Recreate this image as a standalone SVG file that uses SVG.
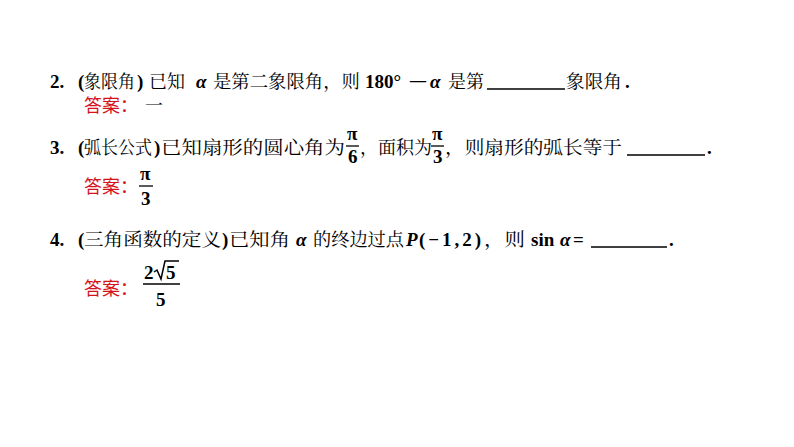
<svg xmlns="http://www.w3.org/2000/svg" width="794" height="447" viewBox="0 0 794 447">
<style>
.c{font-family:"Noto Serif CJK SC","Noto Sans CJK SC",serif;font-size:18px;fill:#000}
.l{font-family:"Liberation Serif",serif;font-size:19px;font-weight:bold;fill:#000}
.i{font-family:"Liberation Serif",serif;font-size:19px;font-weight:bold;font-style:italic;fill:#000}
.r{font-family:"Noto Sans CJK SC",sans-serif;font-size:18px;fill:#d4141c}
.u{stroke:#000;stroke-width:1.3}
</style>
<rect width="794" height="447" fill="#fff"/>
<g id="q2">
<text class="l" x="50" y="88">2.</text>
<text class="l" x="78" y="88">(</text>
<text class="c" x="84" y="88" textLength="51" lengthAdjust="spacingAndGlyphs">象限角</text>
<text class="l" x="137" y="88">)</text>
<text class="c" x="149" y="88" textLength="36" lengthAdjust="spacingAndGlyphs">已知</text>
<text class="i" x="196" y="88">α</text>
<text class="c" x="213" y="88" textLength="147" lengthAdjust="spacingAndGlyphs">是第二象限角，则</text>
<text class="l" x="365" y="88">180°</text>
<text class="l" x="408" y="88" textLength="20" lengthAdjust="spacingAndGlyphs">−</text>
<text class="i" x="430" y="88">α</text>
<text class="c" x="448" y="88" textLength="36" lengthAdjust="spacingAndGlyphs">是第</text>
<line class="u" x1="487" y1="89" x2="565" y2="89"/>
<text class="c" x="566" y="88" textLength="56" lengthAdjust="spacingAndGlyphs">象限角</text>
<text class="l" x="625" y="88">.</text>
</g>
<g id="a2"><text class="r" x="84" y="112">答案：</text><text class="c" x="145" y="112">一</text></g>
<g id="q3">
<text class="l" x="50" y="154">3.</text>
<text class="l" x="78" y="154">(</text>
<text class="c" x="84" y="154" textLength="68" lengthAdjust="spacingAndGlyphs">弧长公式</text>
<text class="l" x="154" y="154">)</text>
<text class="c" x="161" y="154" textLength="184" lengthAdjust="spacingAndGlyphs">已知扇形的圆心角为</text>
<text class="l" x="347" y="140">π</text>
<line class="u" x1="346" y1="146" x2="359" y2="146"/>
<text class="l" x="348" y="163">6</text>
<text class="c" x="360" y="154" textLength="72" lengthAdjust="spacingAndGlyphs">，面积为</text>
<text class="l" x="432" y="140">π</text>
<line class="u" x1="431" y1="146" x2="444" y2="146"/>
<text class="l" x="433" y="163">3</text>
<text class="c" x="445" y="154" textLength="177" lengthAdjust="spacingAndGlyphs">，则扇形的弧长等于</text>
<line class="u" x1="627" y1="155" x2="705" y2="155"/>
<text class="l" x="707" y="154">.</text>
</g>
<g id="a3"><text class="r" x="84" y="193">答案：</text>
<text class="l" x="140" y="180">π</text>
<line class="u" x1="139" y1="186" x2="153" y2="186"/>
<text class="l" x="141" y="205">3</text></g>
<g id="q4">
<text class="l" x="50" y="246">4.</text>
<text class="l" x="78" y="246">(</text>
<text class="c" x="84" y="246" textLength="137" lengthAdjust="spacingAndGlyphs">三角函数的定义</text>
<text class="l" x="222" y="246">)</text>
<text class="c" x="229" y="246" textLength="61" lengthAdjust="spacingAndGlyphs">已知角</text>
<text class="i" x="296" y="246">α</text>
<text class="c" x="313" y="246" textLength="91" lengthAdjust="spacingAndGlyphs">的终边过点</text>
<text class="i" x="406" y="246">P</text>
<text class="l" x="419" y="246" textLength="62" lengthAdjust="spacing">(−1,2)</text>
<text class="c" x="484" y="246" textLength="41" lengthAdjust="spacingAndGlyphs">，则</text>
<text class="l" x="531" y="246">sin</text>
<text class="i" x="560" y="246">α</text>
<text class="l" x="573" y="246">=</text>
<line class="u" x1="591" y1="247" x2="667" y2="247"/>
<text class="l" x="669" y="246">.</text>
</g>
<g id="a4"><text class="r" x="84" y="295">答案：</text>
<text class="l" x="144" y="279">2</text>
<path d="M154 272 l3 -2 l4 9 l4 -18 h14" fill="none" stroke="#000" stroke-width="1.5"/>
<text class="l" x="166" y="279">5</text>
<line class="u" x1="143" y1="284" x2="180" y2="284"/>
<text class="l" x="156" y="306">5</text></g>
</svg>
